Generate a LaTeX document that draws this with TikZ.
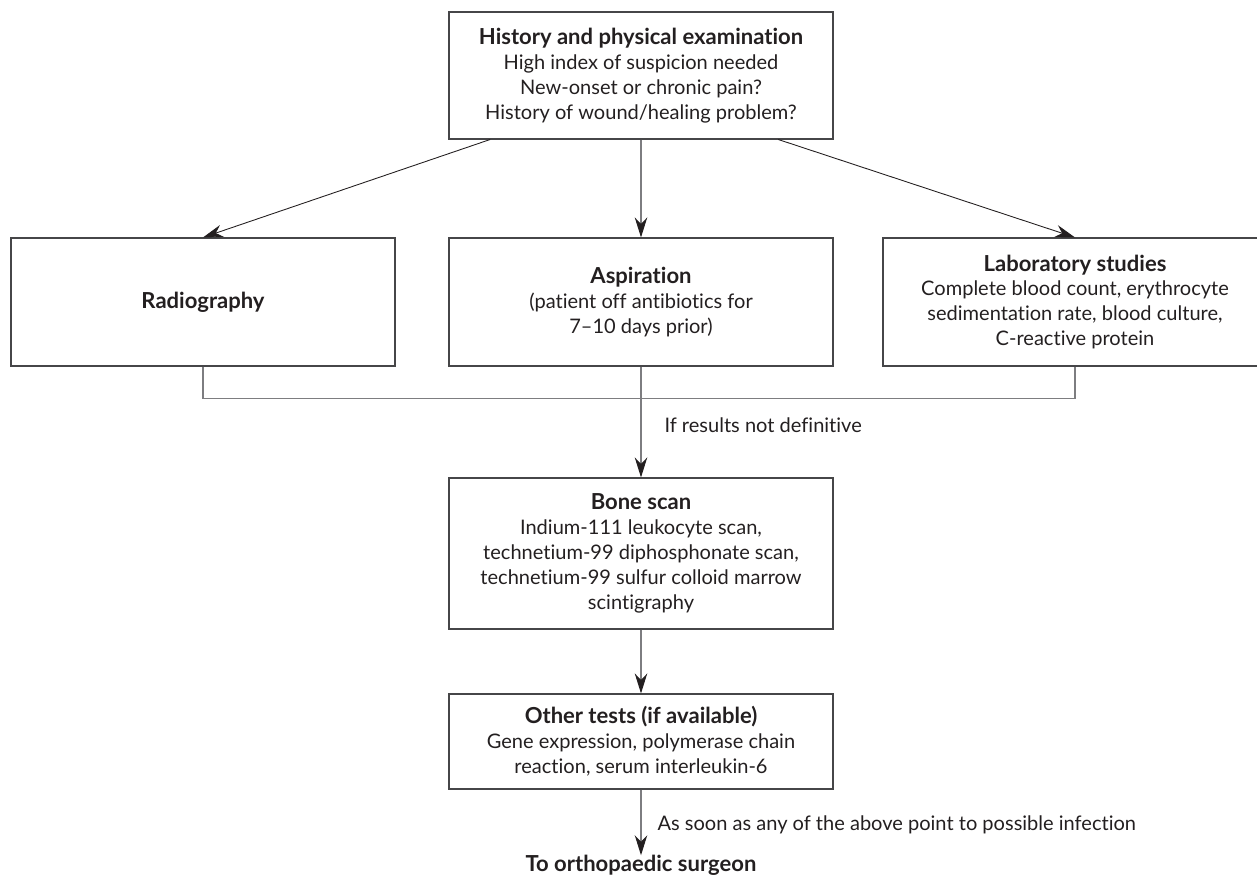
\documentclass[tikz,border=0pt]{standalone}
\usepackage{fontspec}
\setmainfont{Lato}[RawFeature=-liga,BoldFeatures={Scale=1.1}]
\usepackage{xcolor}
\definecolor{inkdark}{RGB}{35,31,32}
\definecolor{boxline}{RGB}{70,70,72}
\definecolor{linkgray}{RGB}{125,125,128}
\usepackage{tikz}
\usetikzlibrary{arrows.meta,positioning}

\begin{document}
\begin{tikzpicture}[
stage/.style={draw=boxline,line width=0.6pt,align=center,minimum width=7.68cm,inner sep=0pt,font=\fontsize{11.4}{14.2}\selectfont,text=inkdark},
flow/.style={-{Stealth[length=4mm,width=2.5mm,inset=1.3mm,color=inkdark]},draw=linkgray,line width=0.6pt},
slant/.style={-{Stealth[length=4mm,width=2.5mm,inset=1.3mm]},draw=inkdark,line width=0.5pt},
merge/.style={draw=linkgray,line width=0.6pt},
note/.style={anchor=west,inner sep=0pt,font=\fontsize{11.4}{14.2}\selectfont,text=inkdark},
goal/.style={inner sep=0pt,font=\fontsize{11.4}{14.2}\selectfont\bfseries,text=inkdark}]
\useasboundingbox (0,0) rectangle (25.14,17.5);
\node[stage,minimum height=2.54cm] (hist) at (12.82,15.99) {\textbf{History and physical examination}\\High index of suspicion needed\\New-onset or chronic pain?\\History of wound/healing problem?};
\node[stage,minimum height=2.56cm] (radio) at (4.06,11.46) {\textbf{Radiography}};
\node[stage,minimum height=2.56cm] (aspir) at (12.82,11.46) {\textbf{Aspiration}\\(patient off antibiotics for\\7--10 days prior)};
\node[stage,minimum height=2.56cm] (labs) at (21.5,11.46) {\textbf{Laboratory studies}\\Complete blood count, erythrocyte\\sedimentation rate, blood culture,\\C-reactive protein};
\node[stage,minimum height=3.02cm] (bone) at (12.82,6.43) {\textbf{Bone scan}\\Indium-111 leukocyte scan,\\technetium-99 diphosphonate scan,\\technetium-99 sulfur colloid marrow\\scintigraphy};
\node[stage,minimum height=1.9cm] (other) at (12.82,2.67) {\textbf{Other tests (if available)}\\Gene expression, polymerase chain\\reaction, serum interleukin-6};
\node[goal,anchor=base] (surgeon) at (12.82,0.06) {To orthopaedic surgeon};
\draw[slant] (hist.203) -- (radio.north);
\draw[flow] (hist) -- (aspir);
\draw[slant] (hist.335) -- (labs.north);
\draw[merge] (radio.south) -- ++(0,-0.64) -| (labs.south);
\draw[flow] (aspir) -- node[note,pos=.53,xshift=0.46cm] {If results not definitive} (bone);
\draw[flow] (bone) -- (other);
\draw[flow] (other) -- node[note,pos=.53,xshift=0.32cm] {As soon as any of the above point to possible infection} (surgeon);
\end{tikzpicture}
\end{document}
